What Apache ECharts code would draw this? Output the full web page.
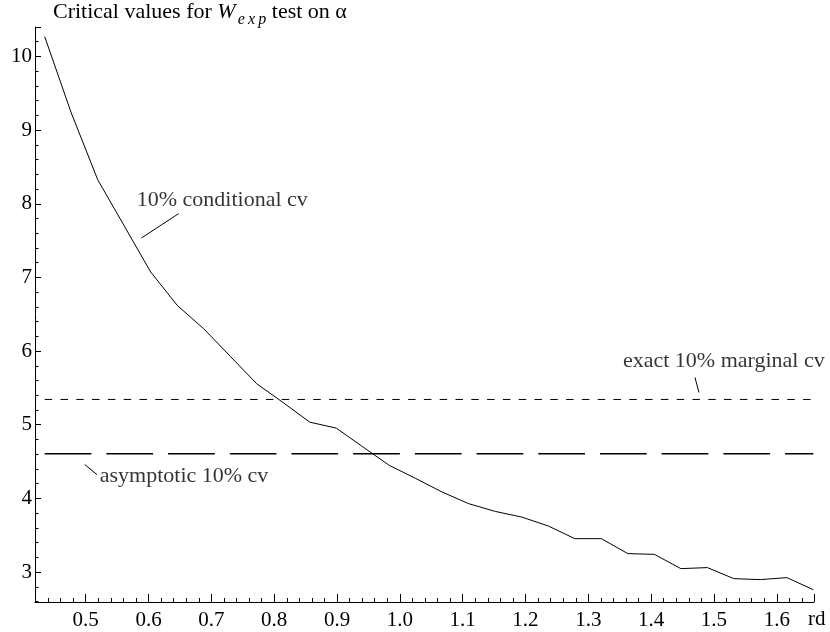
<!DOCTYPE html>
<html>
<head>
<meta charset="utf-8">
<script src="https://cdn.jsdelivr.net/npm/echarts@6/dist/echarts.min.js"></script>
<style>
html,body{margin:0;padding:0;background:#fff;}
#chart{width:830px;height:632px;}
</style>
</head>
<body>
<div id="chart"></div>
<script>
// ---- data ----
var rdValues = [0.4347,0.4769,0.5191,0.5613,0.6035,0.6457,0.6879,0.7300,0.7722,0.8144,
                0.8566,0.8988,0.9410,0.9832,1.0254,1.0676,1.1097,1.1519,1.1941,1.2363,
                1.2785,1.3207,1.3629,1.4051,1.4473,1.4895,1.5316,1.5738,1.6160,1.6581];
var condCV = [10.27,9.236,8.327,7.70,7.073,6.62,6.303,5.93,5.556,5.30,
              5.035,4.954,4.70,4.448,4.27,4.085,3.928,3.823,3.746,3.625,
              3.453,3.453,3.25,3.24,3.046,3.06,2.91,2.897,2.924,2.76];
var exactMarginalCV = 5.343;
var asymptoticCV = 4.605;
var xAxisName = 'rd';
var labelCond = '10% conditional cv';
var labelExact = 'exact 10% marginal cv';
var labelAsym = 'asymptotic 10% cv';
// annotation anchor points (data coordinates)
var condLeader = [[0.5887,7.535],[0.6481,7.867]];
var condText = [0.5812,8.043];
var exactLeader = [[1.4697,5.642],[1.4761,5.438]];
var exactText = [1.3551,5.859];
var asymLeader = [[0.4984,4.461],[0.518,4.322]];
var asymText = [0.5223,4.30];

var FONT = 'Liberation Serif';
var FS = 21;   // tick labels
var FT = 22;   // annotations / title

var chart = echarts.init(document.getElementById('chart'), null, {renderer:'canvas'});

var curveData = rdValues.map(function(x,i){return [x, condCV[i]];});
var xFirst = rdValues[0], xLast = rdValues[rdValues.length-1];

function textSeries(pt, txt){
  return {
    type:'scatter', data:[pt], symbolSize:0, silent:true, z:5,
    label:{show:true, position:'right', distance:0, formatter:txt,
      color:'#000', fontFamily:FONT, fontSize:FT}
  };
}
function leaderSeries(pts){
  return {type:'line', data:pts, symbol:'none', silent:true,
    lineStyle:{color:'#000', width:1}};
}

var option = {
  backgroundColor:'#fff',
  animation:false,
  grid:{left:35, right:16, top:27, bottom:30, containLabel:false},
  graphic:[{
    type:'text', left:53, top:1,
    style:{
      text:'Critical values for {w|W}{s|e\u2009x\u2009p} test on α',
      fontFamily:FONT, fontSize:FT, fill:'#000',
      rich:{
        w:{fontFamily:FONT, fontSize:FT, fontStyle:'italic'},
        s:{fontFamily:FONT, fontSize:16, fontStyle:'italic', padding:[15,0,0,2]}
      }
    }
  }],
  xAxis:{
    type:'value', min:0.4193, max:1.6592, splitNumber:12,
    name:xAxisName, nameLocation:'end', nameGap:-6,
    nameTextStyle:{color:'#000', fontFamily:FONT, fontSize:FS, verticalAlign:'top', padding:[7,0,0,0]},
    axisLine:{show:true, onZero:false, lineStyle:{color:'#000', width:1}},
    axisTick:{show:true, inside:true, length:8, lineStyle:{color:'#000'}},
    minorTick:{show:true, splitNumber:5, length:4, lineStyle:{color:'#000'}},
    splitLine:{show:false},
    axisLabel:{color:'#000', fontFamily:FONT, fontSize:FS, margin:8,
      showMinLabel:false, showMaxLabel:false,
      formatter:function(v){ if(Math.abs(v*10-Math.round(v*10))>1e-6) return ''; return v.toFixed(1);} }
  },
  yAxis:{
    type:'value', min:2.593, max:10.4, splitNumber:8,
    axisLine:{show:true, onZero:false, lineStyle:{color:'#000', width:1}},
    axisTick:{show:true, inside:true, length:6, lineStyle:{color:'#000'}},
    minorTick:{show:true, splitNumber:5, length:3.5, lineStyle:{color:'#000'}},
    splitLine:{show:false},
    axisLabel:{color:'#000', fontFamily:FONT, fontSize:FS, margin:3,
      showMinLabel:false, showMaxLabel:false,
      formatter:function(v){ if(Math.abs(v-Math.round(v))>1e-6) return ''; return String(Math.round(v));} }
  },
  series:[
    {type:'line', data:curveData, symbol:'none', silent:true,
      lineStyle:{color:'#000', width:1}},
    {type:'line', data:[[xFirst,exactMarginalCV],[xLast,exactMarginalCV]], symbol:'none', silent:true,
      lineStyle:{color:'#000', width:1, type:[7.5,8.3]}},
    {type:'line', data:[[xFirst,asymptoticCV],[xLast,asymptoticCV]], symbol:'none', silent:true,
      lineStyle:{color:'#000', width:1.6, type:[46.7,15]}},
    leaderSeries(condLeader),
    leaderSeries(exactLeader),
    leaderSeries(asymLeader),
    textSeries(condText, labelCond),
    textSeries(exactText, labelExact),
    textSeries(asymText, labelAsym)
  ]
};
chart.setOption(option);
</script>
</body>
</html>
